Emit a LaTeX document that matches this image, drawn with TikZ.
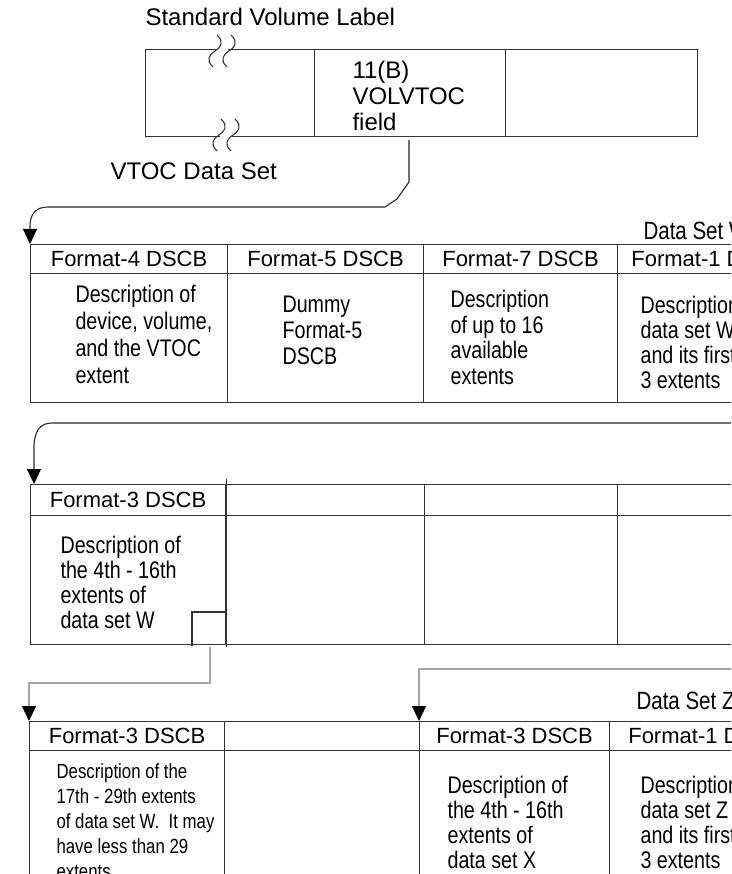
\documentclass[tikz,border=0pt]{standalone}
\usepackage{fontspec}
\setmainfont{Liberation Sans}
\newfontfamily\narrowsans[FakeStretch=0.82]{Liberation Sans}
\usetikzlibrary{arrows.meta, positioning}

\begin{document}
\begin{tikzpicture}[
  x=1pt, y=-1pt,
  line width=1.1pt,
  cell/.style={draw=black!80, anchor=north west, inner sep=0pt, font=\fontsize{22}{24}\selectfont},
  lbl/.style={anchor=base west, inner sep=0pt, align=left, font=\fontsize{24}{26}\selectfont},
  body/.style={anchor=base west, inner sep=0pt, align=left, font=\narrowsans\fontsize{24}{#1}\selectfont},
  body/.default=25,
  small/.style={anchor=base west, inner sep=0pt, align=left, font=\narrowsans\fontsize{20.5}{25}\selectfont},
  dsname/.style={anchor=base west, inner sep=0pt, font=\narrowsans\fontsize{25}{27}\selectfont},
  ptr/.style={draw=black!85, -{Triangle[width=14pt, length=15pt, color=black]}},
  gptr/.style={ptr, draw=black!35}
]
\useasboundingbox (0,0) rectangle (731,874);
\clip (0,0) rectangle (731,874);

% standard volume label (multi-line texts sit on their last baseline)
\node[lbl] (svl) at (145,26) {Standard Volume Label};
\node[cell, minimum width=169pt, minimum height=87pt] (lab1) at (145,49) {};
\node[cell, minimum width=191pt, minimum height=87pt] (lab2) at (314,49) {};
\node[cell, minimum width=192pt, minimum height=87pt] (lab3) at (505,49) {};
\node[lbl] (volvtoc) at (352,131) {11(B)\\VOLVTOC\\field};
\node[lbl] (vtocds) at (110,180) {VTOC Data Set};

% break marks
\fill[white] (216,45) rectangle (228,53);
\fill[white] (220,131) rectangle (232,140);
\foreach \cx/\cy in {215/51, 229/51, 219/135, 233/135}
  \draw[black!80] (\cx+2,\cy-16) .. controls (\cx+10,\cy-9) and (\cx+5,\cy-3) .. (\cx,\cy)
    .. controls (\cx-5,\cy+3) and (\cx-10,\cy+9) .. (\cx-2,\cy+16);

% VTOC, first track
\node[cell, minimum width=197pt, minimum height=29pt] (f4hd) at (30,244) {Format-4 DSCB};
\node[cell, minimum width=197pt, minimum height=129pt] (f4bd) at (30,273) {};
\node[cell, minimum width=196pt, minimum height=29pt] (f5hd) at (227,244) {Format-5 DSCB};
\node[cell, minimum width=196pt, minimum height=129pt] (f5bd) at (227,273) {};
\node[cell, minimum width=194pt, minimum height=29pt] (f7hd) at (423,244) {Format-7 DSCB};
\node[cell, minimum width=194pt, minimum height=129pt] (f7bd) at (423,273) {};
\node[cell, minimum width=184pt, minimum height=29pt] (f1whd) at (617,244) {Format-1 DSCB};
\node[cell, minimum width=184pt, minimum height=129pt] (f1wbd) at (617,273) {};
\node[dsname] (dsw) at (643,240) {Data Set W};
\node[body=27] (f4txt) at (75,383) {Description of\\device, volume,\\and the VTOC\\extent};
\node[body=26] (f5txt) at (282,364) {Dummy\\Format-5\\DSCB};
\node[body=25.5] (f7txt) at (450,384) {Description\\of up to 16\\available\\extents};
\node[body] (f1wtxt) at (640,388) {Description of\\data set W\\and its first\\3 extents};

\coordinate (vtocptr) at (409,140);
\draw[ptr] (vtocptr) -- (409,182) -- (397,199) -- (385,207) -- (48,207)
  .. controls (36,207) and (30,214) .. (30,226) -- (f4hd.north west);

% second row
\node[cell, minimum width=195pt, minimum height=31pt] (f3ahd) at (30,484) {Format-3 DSCB};
\node[cell, minimum width=195pt, minimum height=129pt] (f3abd) at (30,515) {};
\node[cell, minimum width=199pt, minimum height=31pt] (e2hd) at (225,484) {};
\node[cell, minimum width=199pt, minimum height=129pt] (e2bd) at (225,515) {};
\node[cell, minimum width=193pt, minimum height=31pt] (e3hd) at (424,484) {};
\node[cell, minimum width=193pt, minimum height=129pt] (e3bd) at (424,515) {};
\node[cell, minimum width=150pt, minimum height=31pt] (e4hd) at (617,484) {};
\node[cell, minimum width=150pt, minimum height=129pt] (e4bd) at (617,515) {};
\node[body] (f3atxt) at (60,628) {Description of\\the 4th - 16th\\extents of\\data set W};
\draw[black!80] ([yshift=5pt]f3ahd.north east) -- ([yshift=-2pt]f3abd.south east);
\draw[black!80] (192,646) -- (192,612) -- (227,612);

\coordinate (w1ptr) at (740,423);
\draw[ptr] (w1ptr) -- (52,423) .. controls (40,423) and (34,431) .. (34,448)
  -- ([xshift=4pt]f3ahd.north west);

% third row
\node[cell, minimum width=195pt, minimum height=29pt] (f3bhd) at (29,721) {Format-3 DSCB};
\node[cell, minimum width=195pt, minimum height=140pt] (f3bbd) at (29,750) {};
\node[cell, minimum width=195pt, minimum height=29pt] (g2hd) at (224,721) {};
\node[cell, minimum width=195pt, minimum height=140pt] (g2bd) at (224,750) {};
\node[cell, minimum width=190pt, minimum height=29pt] (f3xhd) at (419,721) {Format-3 DSCB};
\node[cell, minimum width=190pt, minimum height=140pt] (f3xbd) at (419,750) {};
\node[cell, minimum width=194pt, minimum height=29pt] (f1zhd) at (609,721) {Format-1 DSCB};
\node[cell, minimum width=194pt, minimum height=140pt] (f1zbd) at (609,750) {};
\node[dsname] (dsz) at (636,709) {Data Set Z};
\node[small] (f3btxt) at (56,878) {Description of the\\17th - 29th extents\\of data set W.\ \ It may\\have less than 29\\extents};
\node[body] (f3xtxt) at (447,868) {Description of\\the 4th - 16th\\extents of\\data set X};
\node[body] (f1ztxt) at (640,868) {Description of\\data set Z\\and its first\\3 extents};

\coordinate (w3ptr) at (210,647);
\draw[gptr] (w3ptr) -- ++(0,36) -| (f3bhd.north west);
\coordinate (zptr) at (740,669);
\draw[gptr] (zptr) -| (f3xhd.north west);
\end{tikzpicture}
\end{document}
